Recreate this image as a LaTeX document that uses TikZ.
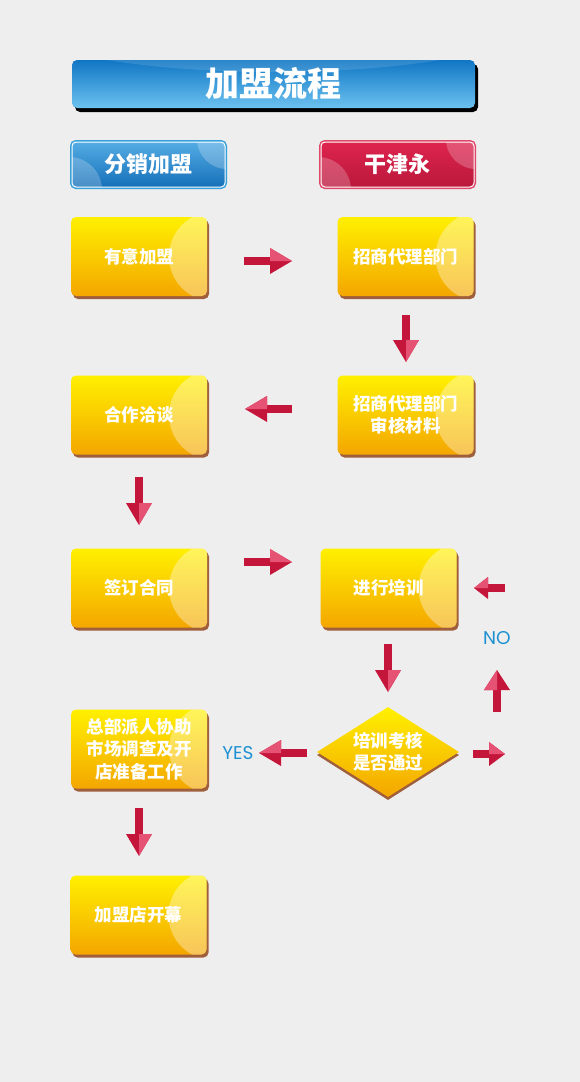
\documentclass[tikz,border=0pt]{standalone}
\usepackage{fontspec}
\setmainfont{Noto Sans CJK SC}
\newfontfamily\latinlbl{Poppins}
\usetikzlibrary{shapes.geometric,shadows,calc}
\definecolor{bg}{RGB}{238,238,238}
\definecolor{ytop}{RGB}{255,240,0}
\definecolor{ybot}{RGB}{244,166,0}
\definecolor{yshadow}{RGB}{160,95,60}
\definecolor{adark}{RGB}{196,22,58}
\definecolor{alight}{RGB}{230,82,116}
\definecolor{tblue1}{RGB}{16,118,196}
\definecolor{tblue2}{RGB}{108,194,240}
\definecolor{hblue1}{RGB}{84,172,228}
\definecolor{hblue2}{RGB}{22,112,184}
\definecolor{hblueb}{RGB}{52,160,220}
\definecolor{hred1}{RGB}{222,36,78}
\definecolor{hred2}{RGB}{186,24,60}
\definecolor{hredb}{RGB}{224,70,104}
\definecolor{lblue}{RGB}{30,145,210}
\tikzset{
  ybox/.style={rectangle, rounded corners=5pt, minimum width=136pt, minimum height=79pt,
    top color=ytop, bottom color=ybot, text=white, align=center, inner sep=0pt,
    font=\bfseries\fontsize{17.5}{22.5}\selectfont,
    drop shadow={shadow xshift=2pt, shadow yshift=-3pt, fill=yshadow, opacity=1},
    path picture={\fill[white,opacity=.35] ($(path picture bounding box.east)+(7,0)$) circle (45);}},
  ydiam/.style={diamond, aspect=1.58, minimum width=142pt, minimum height=90pt,
    top color=ytop, bottom color=ybot, text=white, align=center, inner sep=0pt,
    font=\bfseries\fontsize{17.5}{22.5}\selectfont,
    drop shadow={shadow xshift=0pt, shadow yshift=-3pt, fill=yshadow, opacity=1}},
  titlebox/.style={rectangle, rounded corners=5pt, minimum width=403pt, minimum height=48pt,
    top color=tblue1, bottom color=tblue2, text=white, inner sep=0pt,
    font=\bfseries\fontsize{34}{36}\selectfont,
    drop shadow={shadow xshift=3pt, shadow yshift=-4pt, fill=black, opacity=1},
    path picture={\fill[white,opacity=.12] ($(path picture bounding box.north)+(0,-40)$) ellipse (260 and 52);}},
  hbox/.style={rectangle, rounded corners=4pt, minimum width=153pt, minimum height=45pt,
    text=white, inner sep=0pt, draw=white, line width=1pt,
    font=\bfseries\fontsize{22}{24}\selectfont,
    path picture={\fill[white,opacity=.22] ($(path picture bounding box.north east)+(2,-3)$) circle (30);
                  \fill[white,opacity=.22] ($(path picture bounding box.south west)+(-3,3)$) circle (33);}},
  hblue/.style={hbox, top color=hblue1, bottom color=hblue2, preaction={draw=hblueb, line width=4pt}},
  hred/.style={hbox, top color=hred1, bottom color=hred2, preaction={draw=hredb, line width=4pt}},
  lbl/.style={text=lblue, font=\latinlbl\fontsize{18.5}{20}\selectfont, inner sep=0pt},
  pics/barrow/.style n args={3}{code={
    \fill[adark] (-#1/2,-4) rectangle (#1/2-#2+1,4);
    \fill[adark] (#1/2-#2,-#3) -- (#1/2,0) -- (#1/2-#2,#3) -- cycle;
    \fill[alight] (#1/2-#2,-#3) -- (#1/2,0) -- (#1/2-#2,0) -- cycle;
  }}
}
\begin{document}
\begin{tikzpicture}[x=1pt,y=-1pt]
\useasboundingbox (0,0) rectangle (580,1082);
\fill[bg] (0,0) rectangle (580,1082);

\node[titlebox] (title) at (273.5,84) {加盟流程};
\node[hblue] (h1) at (148.5,164.5) {分销加盟};
\node[hred] (h2) at (397.5,164.5) {干津永};

\node[ybox] (b1) at (139,256.5) {有意加盟};
\node[ybox] (b2) at (405.5,256.5) {招商代理部门};
\node[ybox] (b3) at (405.5,415) {招商代理部门\\审核材料};
\node[ybox] (b4) at (139,415) {合作洽谈};
\node[ybox] (b5) at (139,588) {签订合同};
\node[ybox] (b6) at (388.5,588) {进行培训};
\node[ydiam] (d) at (388,752) {培训考核\\是否通过};
\node[ybox] (b7) at (139,749) {总部派人协助\\市场调查及开\\店准备工作};
\node[ybox] (b8) at (138.5,915) {加盟店开幕};

\node[lbl] (yes) at (238,753) {YES};
\node[lbl] (no) at (497,638) {NO};

% arrows
\pic at (268,261) {barrow={48}{22}{13}};
\pic[rotate=-90] at (406,338.5) {barrow={47}{22}{13}};
\pic[xscale=-1] at (268.5,409) {barrow={47}{22}{13}};
\pic[rotate=-90] at (139,501) {barrow={48}{22}{13}};
\pic at (268,562) {barrow={48}{22}{13}};
\pic[xscale=-1] at (489.5,588) {barrow={31}{14}{11}};
\pic[rotate=-90] at (388,668) {barrow={48}{22}{13}};
\pic[xscale=-1] at (283,753) {barrow={48}{22}{13}};
\pic at (489,754) {barrow={32}{16}{12}};
\pic[rotate=90] at (497,691) {barrow={42}{20}{13}};
\pic[rotate=-90] at (139,832) {barrow={48}{22}{13}};
\end{tikzpicture}
\end{document}
